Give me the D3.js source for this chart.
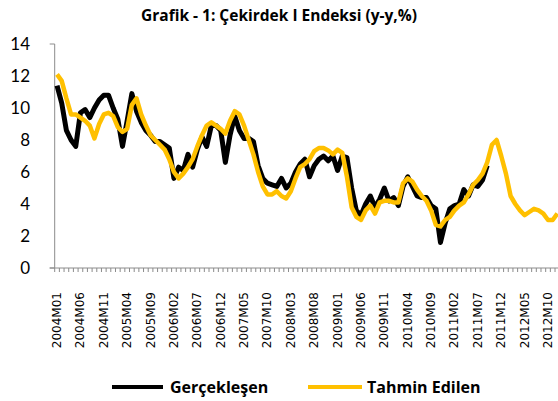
<!DOCTYPE html>
<html>
<head>
<meta charset="utf-8">
<script src="https://cdn.jsdelivr.net/npm/d3@7"></script>
<style>
    body { margin: 0; background: #fff; }
    svg { display: block; }
</style>
</head>
<body>
<div id="chart"></div>
<script>
/*
 * Categories: monthly, 2004M01 .. 2012M12.
 */
var years = [2004, 2005, 2006, 2007, 2008, 2009, 2010, 2011, 2012];
var months = [];
years.forEach(function(y) {
    for (var m = 1; m <= 12; m ++) {
        months.push(y + 'M' + (m < 10 ? '0' + m : m));
    }
});
/*
 * Labels shown on the x axis.
 */
var tickLabels = [
    '2004M01', '2004M06', '2004M11', '2005M04', '2005M09', '2006M02',
    '2006M07', '2006M12', '2007M05', '2007M10', '2008M03', '2008M08',
    '2009M01', '2009M06', '2009M11', '2010M04', '2010M09', '2011M02',
    '2011M07', '2011M12', '2012M05', '2012M10'
];
var yTicks = [0, 2, 4, 6, 8, 10, 12, 14];
/*
 * Series values.
 */
var actual = [
    11.4, 10.3, 8.6, 8.0, 7.6, 9.7, 9.9, 9.4, 10.0, 10.5,
    10.8, 10.8, 10.0, 9.3, 7.6, 9.2, 10.9, 9.8, 9.1, 8.6,
    8.3, 7.9, 7.9, 7.7, 7.5, 5.6, 6.3, 6.1, 7.1, 6.3,
    7.4, 8.2, 7.6, 8.9, 8.9, 8.6, 6.6, 8.3, 9.5, 8.6,
    8.1, 8.1, 7.9, 6.4, 5.6, 5.3, 5.2, 5.1, 5.6, 5.0,
    5.3, 6.0, 6.5, 6.8, 5.7, 6.4, 6.8, 7.0, 6.7, 7.0,
    6.1, 7.0, 6.9, 5.0, 3.6, 3.3, 4.0, 4.5, 3.8, 4.3,
    5.0, 4.2, 4.4, 3.9, 5.1, 5.7, 5.1, 4.5, 4.4, 4.4,
    3.9, 3.7, 1.6, 2.8, 3.7, 3.9, 4.0, 4.9, 4.5, 5.2,
    5.1, 5.5, 6.4
];
var forecast = [
    12.1, 11.7, 10.6, 9.6, 9.6, 9.4, 9.2, 8.9, 8.1, 9.0,
    9.6, 9.7, 9.5, 8.8, 8.5, 8.7, 10.2, 10.6, 9.6, 8.9,
    8.3, 8.0, 7.7, 7.4, 6.8, 6.0, 5.6, 5.9, 6.3, 6.8,
    7.6, 8.3, 8.9, 9.1, 8.9, 8.7, 8.4, 9.2, 9.8, 9.6,
    8.9, 8.0, 7.1, 6.0, 5.1, 4.6, 4.6, 4.8, 4.5, 4.35,
    4.8, 5.6, 6.3, 6.5, 6.8, 7.3, 7.5, 7.5, 7.35, 7.1,
    7.4, 7.2, 5.7, 3.8, 3.2, 3.0, 3.6, 3.9, 3.4, 4.1,
    4.2, 4.2, 4.1, 4.1, 5.3, 5.6, 5.4, 4.9, 4.5, 4.2,
    3.6, 2.7, 2.6, 3.0, 3.2, 3.6, 3.9, 4.1, 4.6, 5.2,
    5.5, 5.9, 6.6, 7.7, 8.0, 7.0, 5.9, 4.5, 4.0, 3.6,
    3.3, 3.5, 3.7, 3.6, 3.4, 3.0, 3.0, 3.4
];
var seriesNames = ['Gerçekleşen', 'Tahmin Edilen'];
var seriesColors = ['#000000', '#FFC000'];

var width = 558, height = 401;
var axisColor = '#8c8c8c';

var svg = d3.select('#chart').append('svg')
    .attr('width', width)
    .attr('height', height);
/*
 * Scales.
 */
var x = d3.scaleBand()
    .domain(months)
    .range([54.7, 559.7]);
var y = d3.scaleLinear()
    .domain([0, 14])
    .range([268, 44]);
/*
 * Title.
 */
svg.append('text')
    .attr('x', 279)
    .attr('y', 21)
    .attr('text-anchor', 'middle')
    .style('font-family', '"Open Sans", Lato, sans-serif')
    .style('font-weight', 'bold')
    .style('font-size', '15.5px')
    .text('Grafik - 1: Çekirdek I Endeksi (y-y,%)');
/*
 * Y axis.
 */
svg.append('line')
    .attr('x1', x.range()[0]).attr('x2', x.range()[0])
    .attr('y1', y(14)).attr('y2', y(0))
    .attr('stroke', axisColor)
    .attr('stroke-width', 1);
[0, 14].forEach(function(v) {
    svg.append('line')
        .attr('x1', x.range()[0] - 5).attr('x2', x.range()[0])
        .attr('y1', y(v)).attr('y2', y(v))
        .attr('stroke', axisColor);
});
svg.selectAll('.ylabel')
    .data(yTicks)
    .enter().append('text')
    .attr('class', 'ylabel')
    .attr('x', 30)
    .attr('y', d => y(d))
    .attr('dy', '0.35em')
    .attr('text-anchor', 'end')
    .style('font-family', 'Lato, "Open Sans", sans-serif')
    .style('font-size', '17px')
    .text(d => d);
/*
 * X axis line and category ticks.
 */
svg.append('line')
    .attr('x1', x.range()[0] - 5).attr('x2', x.range()[1])
    .attr('y1', y(0)).attr('y2', y(0))
    .attr('stroke', axisColor);
var bounds = months.map(d => x(d)).concat([x.range()[1]]);
svg.selectAll('.xtick')
    .data(bounds)
    .enter().append('line')
    .attr('class', 'xtick')
    .attr('x1', d => d).attr('x2', d => d)
    .attr('y1', y(0)).attr('y2', y(0) + 4)
    .attr('stroke', axisColor);
svg.selectAll('.xlabel')
    .data(tickLabels)
    .enter().append('text')
    .attr('class', 'xlabel')
    .attr('transform', d => 'translate(' + (x(d) + x.bandwidth() / 2 + 4) + ',' + 292 + ') rotate(-90)')
    .attr('text-anchor', 'end')
    .style('font-family', '"DejaVu Sans", sans-serif')
    .style('font-size', '12px')
    .text(d => d);
/*
 * Lines.
 */
var line = d3.line()
    .x((d, i) => x(months[i]) + x.bandwidth() / 2)
    .y(d => y(d));

svg.append('path')
    .datum(actual)
    .attr('d', line)
    .attr('fill', 'none')
    .attr('stroke', seriesColors[0])
    .attr('stroke-width', 5)
    .attr('stroke-linejoin', 'round');
svg.append('path')
    .datum(forecast)
    .attr('d', line)
    .attr('fill', 'none')
    .attr('stroke', seriesColors[1])
    .attr('stroke-width', 4.5)
    .attr('stroke-linejoin', 'round');
/*
 * Legend.
 */
var legend = [
    { x1: 112, x2: 163, tx: 170 },
    { x1: 308, x2: 362, tx: 367 }
];
legend.forEach(function(l, i) {
    svg.append('line')
        .attr('x1', l.x1).attr('x2', l.x2)
        .attr('y1', 387).attr('y2', 387)
        .attr('stroke', seriesColors[i])
        .attr('stroke-width', 4);
    svg.append('text')
        .attr('x', l.tx)
        .attr('y', 387)
        .attr('dy', '0.35em')
        .style('font-family', '"Open Sans", Lato, sans-serif')
        .style('font-weight', 'bold')
        .style('font-size', '16px')
        .text(seriesNames[i]);
});
</script>
</body>
</html>
